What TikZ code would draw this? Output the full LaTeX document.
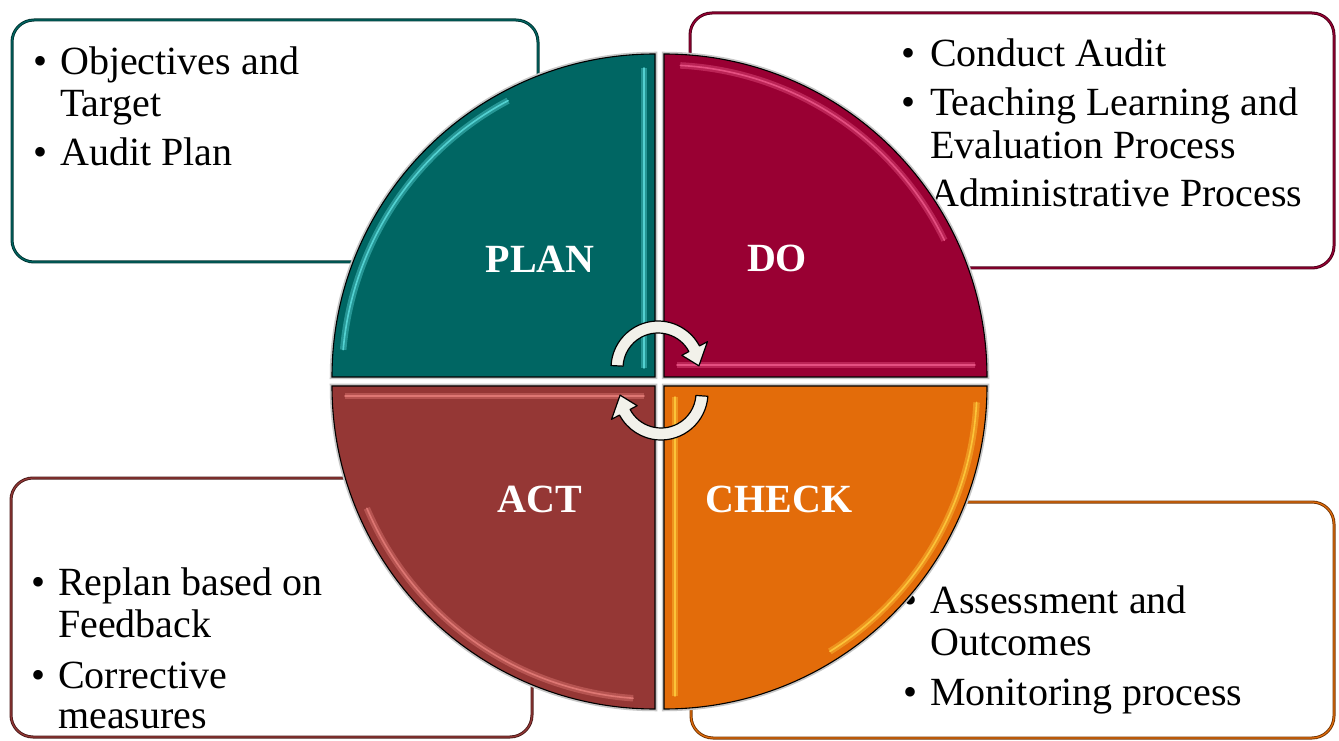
\documentclass[tikz,border=0pt]{standalone}
\usepackage{fontspec}
\setmainfont{Liberation Serif}
\usetikzlibrary{calc}
\definecolor{cP}{HTML}{006663}
\definecolor{cD}{HTML}{990033}
\definecolor{cA}{HTML}{953735}
\definecolor{cC}{HTML}{E36C0A}
\definecolor{hP}{HTML}{5FE0E0}
\definecolor{hD}{HTML}{F05A8C}
\definecolor{hA}{HTML}{E8807C}
\definecolor{hC}{HTML}{FFD040}
\definecolor{arrowcol}{HTML}{F2F1EA}
\begin{document}
\begin{tikzpicture}[x=1pt,y=1pt,
  infobox/.style={rounded corners=22pt, fill=white, draw=#1!50!black, double=#1, double distance=1.2pt, line width=0.9pt},
  quad/.style={fill=#1, draw=black, line width=1.1pt, preaction={draw=black!22, line width=4.5pt}},
  hl/.style={draw=#1, line width=1.6pt, line cap=round, draw opacity=.8, preaction={draw=#1, line width=6.5pt, draw opacity=.4, line cap=butt}},
  txt/.style={inner sep=0pt, anchor=base west, font=\fontsize{40pt}{42pt}\selectfont},
  lbl/.style={inner sep=0pt, anchor=base, text=white, font=\bfseries\fontsize{40pt}{42pt}\selectfont},
  cyc/.style={fill=arrowcol, draw=black, line width=1.2pt, line join=round}
]
\useasboundingbox (0,0) rectangle (1339,740);
\fill[white] (0,0) rectangle (1339,740);

% info boxes
\draw[infobox=cP] (12,478) rectangle (538,720);
\draw[infobox=cD] (690,472) rectangle (1334,727);
\draw[infobox=cA] (11,3) rectangle (532,262);
\draw[infobox=cC] (691,2) rectangle (1334,238);

% texts top-left
\node[txt] (tlb1) at (33,665) {\textbullet};
\node[txt] (tl1) at (60,665) {Objectives and};
\node[txt] (tl2) at (60,623) {Target};
\node[txt] (tlb2) at (33,574) {\textbullet};
\node[txt] (tl3) at (60,574) {Audit Plan};

% texts top-right
\node[txt] (trb1) at (901,673) {\textbullet};
\node[txt] (tr1) at (930,673) {Conduct Audit};
\node[txt] (trb2) at (901,624) {\textbullet};
\node[txt] (tr2) at (930,624) {Teaching Learning and};
\node[txt] (tr3) at (930,581) {Evaluation Process};
\node[txt] (tr4) at (930,533) {Administrative Process};

% texts bottom-left
\node[txt] (blb1) at (31,145) {\textbullet};
\node[txt] (bl1) at (58,145) {Replan based on};
\node[txt] (bl2) at (58,103) {Feedback};
\node[txt] (blb2) at (31,52) {\textbullet};
\node[txt] (bl3) at (58,52) {Corrective};
\node[txt] (bl4) at (58,12) {measures};

% texts bottom-right
\node[txt] (brb1) at (903,127) {\textbullet};
\node[txt] (br1) at (930,127) {Assessment and};
\node[txt] (br2) at (930,85) {Outcomes};
\node[txt] (brb2) at (903,35) {\textbullet};
\node[txt] (br3) at (930,35) {Monitoring process};

% quadrants
\coordinate (cp) at (655,363);
\coordinate (cd) at (664,363);
\coordinate (cc) at (664,354);
\coordinate (ca) at (655,354);

\draw[quad=cP] (cp) -- ++(-323,0) arc[start angle=180,end angle=90,radius=323pt] -- cycle;
\draw[quad=cD] (cd) -- ++(0,323) arc[start angle=90,end angle=0,radius=323pt] -- cycle;
\draw[quad=cC] (cc) -- ++(323,0) arc[start angle=0,end angle=-90,radius=323pt] -- cycle;
\draw[quad=cA] (ca) -- ++(0,-323) arc[start angle=270,end angle=180,radius=323pt] -- cycle;

% highlights
\draw[hl=hP] ($(cp)+(175:313pt)$) arc[start angle=175,end angle=118,radius=313pt];
\draw[hl=hP] (644,372) -- (644,672);
\draw[hl=hD] ($(cd)+(87:312pt)$) arc[start angle=87,end angle=26,radius=312pt];
\draw[hl=hD] (677,375) -- (975,375);
\draw[hl=hC] ($(cc)+(-3:313pt)$) arc[start angle=-3,end angle=-58,radius=313pt];
\draw[hl=hC] (675,343) -- (675,44);
\draw[hl=hA] ($(ca)+(203:313pt)$) arc[start angle=203,end angle=266,radius=313pt];
\draw[hl=hA] (345,344) -- (644,344);

% labels
\node[lbl] (plan) at (540,467) {PLAN};
\node[lbl] (do) at (777,468) {DO};
\node[lbl] (act) at (540,228) {ACT};
\node[lbl] (check) at (779,228) {CHECK};

% cycle arrows
\coordinate (U) at (658,372);
\coordinate (L) at (661,347);
\draw[cyc] ($(U)+(177:47pt)$) arc[start angle=177,end angle=28,radius=47pt]
  -- ($(U)+(28:56pt)$) -- ($(U)+(3:41pt)$) -- ($(U)+(28:27pt)$)
  -- ($(U)+(28:35pt)$) arc[start angle=28,end angle=177,radius=35pt] -- cycle;
\draw[cyc] ($(L)+(-4:47pt)$) arc[start angle=-4,end angle=-152,radius=47pt]
  -- ($(L)+(-152:56pt)$) -- ($(L)+(-177:41pt)$) -- ($(L)+(-152:27pt)$)
  -- ($(L)+(-152:35pt)$) arc[start angle=-152,end angle=-4,radius=35pt] -- cycle;
\end{tikzpicture}
\end{document}
